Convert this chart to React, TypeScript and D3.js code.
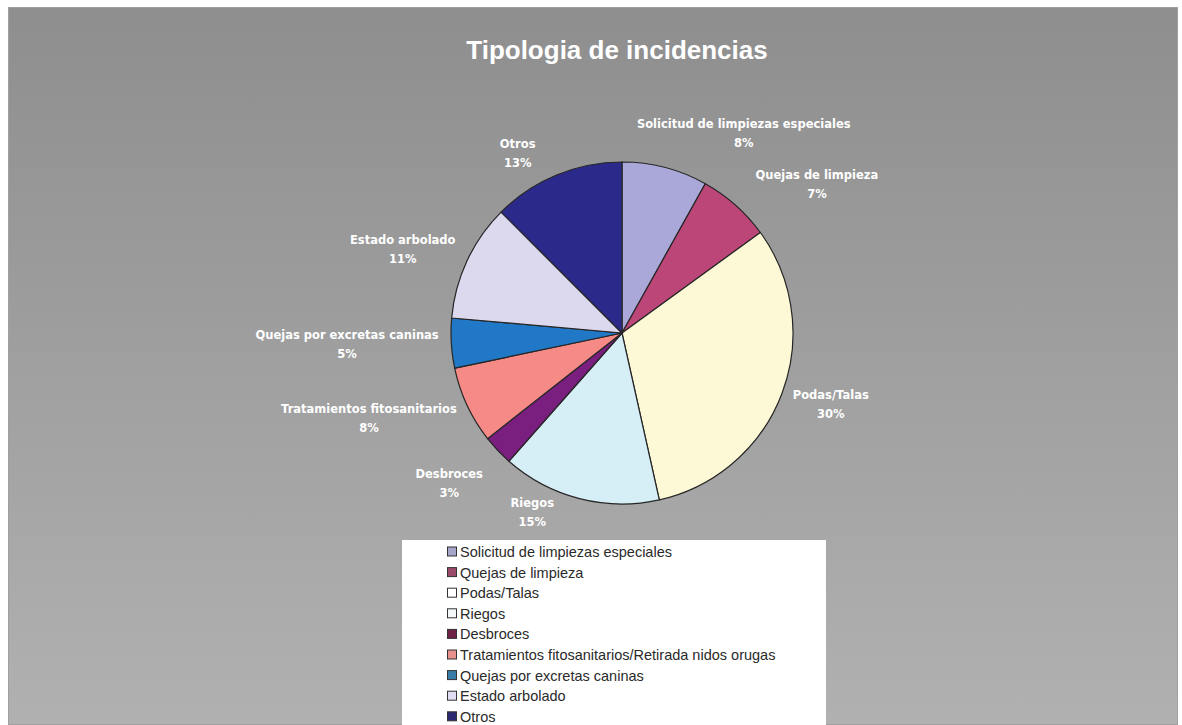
import React from "react";
import * as d3 from "d3";

const title = "Tipologia de incidencias";
const categories = [
  "Solicitud de limpiezas especiales",
  "Quejas de limpieza",
  "Podas/Talas",
  "Riegos",
  "Desbroces",
  "Tratamientos fitosanitarios/Retirada nidos orugas",
  "Quejas por excretas caninas",
  "Estado arbolado",
  "Otros",
];
const labelNames = [
  "Solicitud de limpiezas especiales",
  "Quejas de limpieza",
  "Podas/Talas",
  "Riegos",
  "Desbroces",
  "Tratamientos fitosanitarios",
  "Quejas por excretas caninas",
  "Estado arbolado",
  "Otros",
];
const values = [8.1, 6.9, 31.5, 15.0, 2.9, 7.3, 4.7, 11.1, 12.5];
const percentLabels = ["8%", "7%", "30%", "15%", "3%", "8%", "5%", "11%", "13%"];

// styling / layout (not data)
const colors = [
  "#aaa8d8",
  "#bc4678",
  "#fdf9d6",
  "#d6eef6",
  "#7a1e80",
  "#f58a86",
  "#2078c6",
  "#dcd8ee",
  "#2b2a8a",
];
const legendColors = [
  "#a6a4c8",
  "#9c4a6a",
  "#ffffff",
  "#f4f8fa",
  "#6e2246",
  "#e8908c",
  "#3a7ca8",
  "#e2dcf2",
  "#2c2a70",
];
const labelNudge: [number, number][] = [
  [65, 18.5],
  [38.5, 28],
  [-1, -7.5],
  [-39, -18],
  [-14, 0],
  [-9, -28],
  [0, -4.5],
  [-4, 17],
  [-26, 9.5],
];

const W = 1182;
const H = 725;
const cx = 622;
const cy = 333;
const R = 171;
const labelFamily = "'DejaVu Sans', Verdana, sans-serif";
const labelSize = 11.5;
const labelFont = `bold ${labelSize}px ${labelFamily}`;

function measure(text: string, font: string): number {
  if (typeof document === "undefined") return text.length * 6;
  const c = document.createElement("canvas");
  const ctx = c.getContext("2d");
  if (!ctx) return text.length * 6;
  ctx.font = font;
  return ctx.measureText(text).width;
}

export default function App() {
  const pie = d3
    .pie<number>()
    .sort(null)
    .value((d) => d)
    .startAngle(0)
    .endAngle(2 * Math.PI);
  const arcs = pie(values);
  const arcGen = d3
    .arc<d3.PieArcDatum<number>>()
    .innerRadius(0)
    .outerRadius(R);

  const legendX = 402;
  const legendY = 540;
  const legendRow = 20.6;

  return (
    <svg
      width={W}
      height={H}
      style={{ position: "absolute", left: 0, top: 0, display: "block" }}
      fontFamily="'Liberation Sans', Arial, sans-serif"
    >
      <defs>
        <linearGradient id="bg" x1="0" y1="0" x2="0" y2="1">
          <stop offset="0%" stopColor="#8e8e8e" />
          <stop offset="100%" stopColor="#b1b1b1" />
        </linearGradient>
      </defs>
      <rect x={0} y={0} width={W} height={H} fill="#ffffff" />
      <rect x={8} y={7} width={1170} height={H - 7} fill="url(#bg)" />
      <rect x={8.5} y={7.5} width={1169} height={H - 8} fill="none" stroke="#a0a0a0" strokeWidth={1} />

      <text
        x={617}
        y={59}
        textAnchor="middle"
        fontSize={26}
        fontWeight="bold"
        fill="#ffffff"
      >
        {title}
      </text>

      <g>
        {arcs.map((a, i) => (
          <path
            key={i}
            d={arcGen(a) || ""}
            transform={`translate(${cx},${cy})`}
            fill={colors[i]}
            stroke="#262626"
            strokeWidth={1.2}
          />
        ))}
      </g>

      <g>
        {arcs.map((a, i) => {
          const theta = (a.startAngle + a.endAngle) / 2;
          const s = Math.sin(theta);
          const c = Math.cos(theta);
          const w = Math.max(
            measure(labelNames[i], labelFont),
            measure(percentLabels[i], labelFont)
          );
          const h = 32;
          const dist = R + 12 + (w / 2) * Math.abs(s) + (h / 2) * Math.abs(c);
          const x = cx + dist * s + labelNudge[i][0];
          const y = cy - dist * c + labelNudge[i][1];
          return (
            <g
              key={i}
              fontSize={labelSize}
              fontWeight="bold"
              fontFamily={labelFamily}
              fill="#ffffff"
              textAnchor="middle"
            >
              <text x={x} y={y - 5.5}>{labelNames[i]}</text>
              <text x={x} y={y + 13.5}>{percentLabels[i]}</text>
            </g>
          );
        })}
      </g>

      <g>
        <rect x={legendX} y={legendY} width={424} height={H - legendY + 2} fill="#ffffff" />
        {categories.map((cat, i) => {
          const yc = legendY + 12 + i * legendRow;
          return (
            <g key={i}>
              <rect
                x={447.5}
                y={yc - 5}
                width={9}
                height={9}
                fill={legendColors[i]}
                stroke="#333333"
                strokeWidth={1}
              />
              <text x={460} y={yc + 5} fontSize={14.5} fill="#2a2a2a">
                {cat}
              </text>
            </g>
          );
        })}
      </g>
    </svg>
  );
}
